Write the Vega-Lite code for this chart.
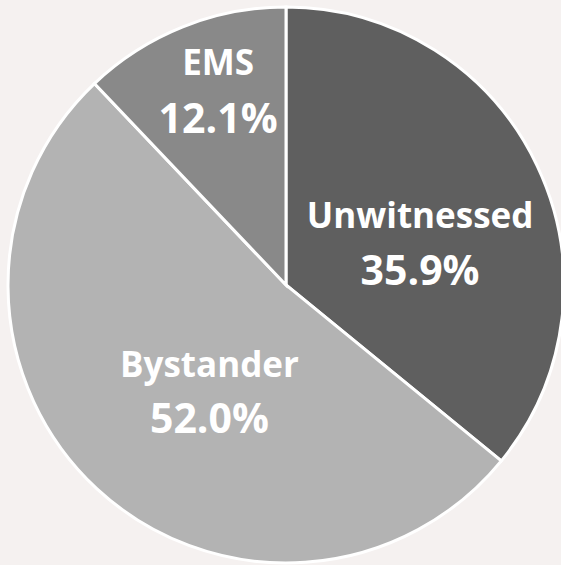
{
  "$schema": "https://vega.github.io/schema/vega-lite/v6.json",
  "width": 561,
  "height": 565,
  "autosize": "none",
  "padding": 0,
  "background": "#f5f1f0",
  "view": {"stroke": null},
  "data": {
    "values": [
      {"category": "Unwitnessed", "pct": 35.9, "label": "35.9%", "rank": 1},
      {"category": "Bystander", "pct": 52.0, "label": "52.0%", "rank": 2},
      {"category": "EMS", "pct": 12.1, "label": "12.1%", "rank": 3}
    ]
  },
  "encoding": {
    "theta": {"field": "pct", "type": "quantitative", "stack": true},
    "order": {"field": "rank", "type": "quantitative"}
  },
  "layer": [
    {
      "mark": {"type": "arc", "outerRadius": 278, "stroke": "#ffffff", "strokeWidth": 3, "x": 286, "y": 285},
      "encoding": {
        "color": {
          "field": "category",
          "type": "nominal",
          "scale": {"domain": ["Unwitnessed", "Bystander", "EMS"], "range": ["#5f5f5f", "#b3b3b3", "#898989"]},
          "legend": null
        }
      }
    },
    {
      "mark": {
        "type": "text",
        "x": 286,
        "y": 285,
        "font": "Open Sans",
        "fontWeight": "bold",
        "fontSize": 35,
        "color": "#ffffff",
        "align": "center",
        "baseline": "alphabetic",
        "radius": {"expr": "datum.category === 'EMS' ? 183 : (datum.category === 'Bystander' ? 112.6 : 148.4)"},
        "dy": {"expr": "datum.category === 'EMS' ? -40 : (datum.category === 'Bystander' ? 9.4 : 6.7)"}
      },
      "encoding": {"text": {"field": "category", "type": "nominal"}}
    },
    {
      "mark": {
        "type": "text",
        "x": 286,
        "y": 285,
        "font": "Open Sans",
        "fontWeight": "bold",
        "fontSize": 41,
        "color": "#ffffff",
        "align": "center",
        "baseline": "alphabetic",
        "radius": {"expr": "datum.category === 'EMS' ? 183 : (datum.category === 'Bystander' ? 112.6 : 148.4)"},
        "dy": {"expr": "datum.category === 'EMS' ? 18 : (datum.category === 'Bystander' ? 65.4 : 63.7)"}
      },
      "encoding": {"text": {"field": "label", "type": "nominal"}}
    }
  ]
}
